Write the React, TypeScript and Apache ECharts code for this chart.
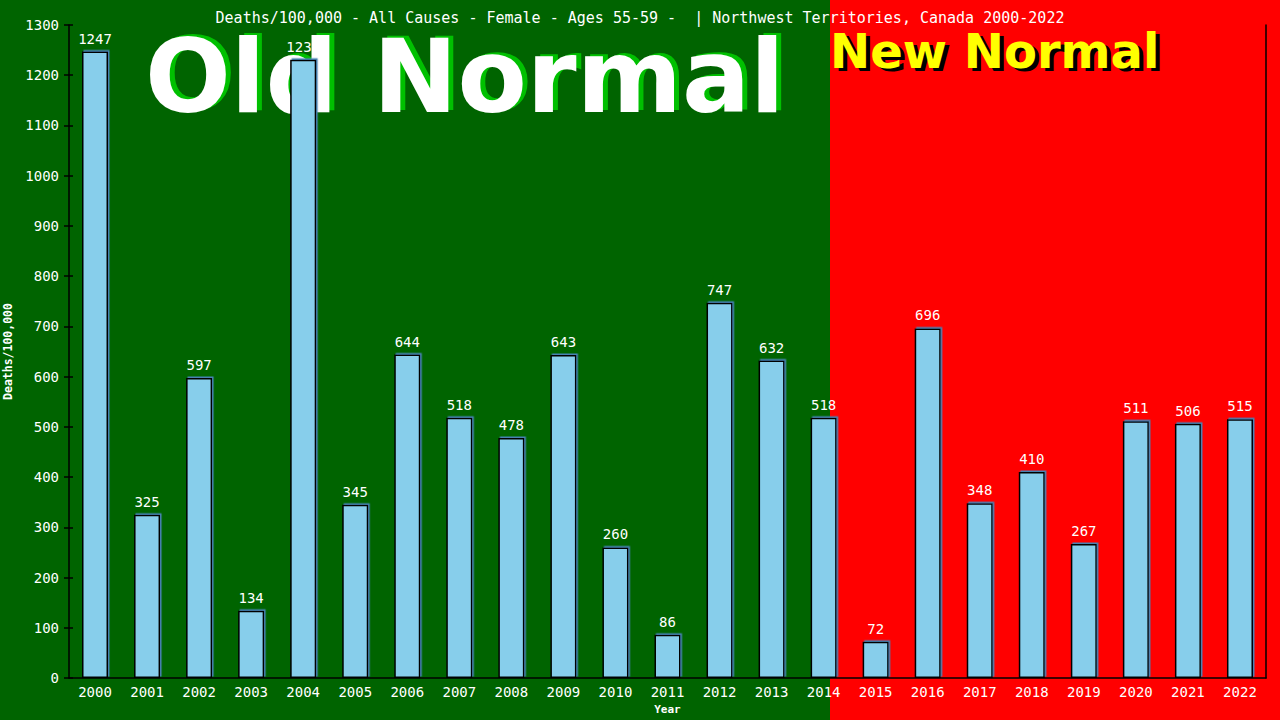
import { useEffect, useRef } from 'react';
import * as echarts from 'echarts';

const years = [
  '2000', '2001', '2002', '2003', '2004', '2005', '2006', '2007', '2008', '2009', '2010', '2011',
  '2012', '2013', '2014', '2015', '2016', '2017', '2018', '2019', '2020', '2021', '2022',
];
const deaths = [
  1247, 325, 597, 134, 1231, 345, 644, 518, 478, 643, 260, 86,
  747, 632, 518, 72, 696, 348, 410, 267, 511, 506, 515,
];
const yMax = 1300;
const yStep = 100;

const titleText = 'Deaths/100,000 - All Causes - Female - Ages 55-59 -  | Northwest Territories, Canada 2000-2022';
const mono = '"DejaVu Sans Mono", monospace';
const bold = '"DejaVu Sans", sans-serif';

export default function App() {
  const chartRef = useRef<HTMLDivElement>(null);

  useEffect(() => {
    if (!chartRef.current) return;
    const chart = echarts.init(chartRef.current, undefined, { renderer: 'svg' });

    const yBase = {
      type: 'value' as const,
      min: 0,
      max: yMax,
      interval: yStep,
      splitLine: { show: false },
      z: 10,
    };

    chart.setOption({
      animation: false,
      backgroundColor: '#006400',
      title: {
        text: titleText,
        left: 'center',
        top: 5,
        textStyle: { color: '#ffffff', fontSize: 15, fontWeight: 'normal', fontFamily: mono },
      },
      grid: { left: 69, right: 14, top: 25, bottom: 42, containLabel: false, outerBoundsMode: 'none' },
      xAxis: {
        type: 'category',
        data: years,
        z: 10,
        name: 'Year',
        nameLocation: 'middle',
        nameGap: 26,
        nameTextStyle: { color: '#ffffff', fontSize: 11, fontWeight: 'bold', fontFamily: mono },
        axisLine: { lineStyle: { color: '#000000', width: 1.5 } },
        axisTick: { show: false },
        axisLabel: { color: '#ffffff', fontSize: 14, fontFamily: mono, margin: 7 },
      },
      yAxis: [
        {
          ...yBase,
          position: 'left',
          name: 'Deaths/100,000',
          nameLocation: 'middle',
          nameGap: 51,
          nameTextStyle: { color: '#ffffff', fontSize: 11.5, fontWeight: 'bold', fontFamily: mono },
          axisLine: { show: true, lineStyle: { color: '#000000', width: 1.5 } },
          axisTick: { show: true, length: 5, lineStyle: { color: '#000000', width: 1.5 } },
          axisLabel: {
            color: '#ffffff',
            fontSize: 14,
            fontFamily: mono,
            margin: 10,
            formatter: (v: number) => String(v),
          },
        },
        {
          ...yBase,
          position: 'left',
          axisLine: { show: false },
          axisTick: { show: true, inside: true, length: 4, lineStyle: { color: '#000000', width: 1.5 } },
          axisLabel: { show: false },
        },
        {
          ...yBase,
          position: 'right',
          axisLine: { show: true, lineStyle: { color: '#000000', width: 1.5 } },
          axisTick: { show: false },
          axisLabel: { show: false },
        },
      ],
      graphic: [
        {
          type: 'rect',
          z: 0,
          silent: true,
          shape: { x: 830, y: 0, width: 450, height: 720 },
          style: { fill: '#ff0000' },
        },
        {
          type: 'text',
          z: 2,
          x: 150,
          y: 75,
          silent: true,
          style: {
            text: 'Old Normal',
            fill: '#00c000',
            fontSize: 101,
            fontWeight: 'bold',
            fontFamily: bold,
            verticalAlign: 'middle',
          },
        },
        {
          type: 'text',
          z: 2.5,
          x: 145,
          y: 77,
          silent: true,
          style: {
            text: 'Old Normal',
            fill: '#ffffff',
            fontSize: 101,
            fontWeight: 'bold',
            fontFamily: bold,
            verticalAlign: 'middle',
          },
        },
        {
          type: 'text',
          z: 2,
          x: 834,
          y: 54,
          silent: true,
          style: {
            text: 'New Normal',
            fill: '#000000',
            fontSize: 48,
            fontWeight: 'bold',
            fontFamily: bold,
            verticalAlign: 'middle',
          },
        },
        {
          type: 'text',
          z: 2.5,
          x: 830,
          y: 51,
          silent: true,
          style: {
            text: 'New Normal',
            fill: '#ffff00',
            fontSize: 48,
            fontWeight: 'bold',
            fontFamily: bold,
            verticalAlign: 'middle',
          },
        },
      ],
      series: [
        {
          // value labels sit under the big overlay text
          type: 'bar',
          z: 1,
          data: deaths,
          barWidth: '50%',
          silent: true,
          itemStyle: { color: 'rgba(0,0,0,0)' },
          label: {
            show: true,
            position: 'top',
            distance: 6,
            color: '#ffffff',
            fontSize: 14,
            fontFamily: mono,
          },
        },
        {
          type: 'bar',
          z: 3,
          data: deaths,
          barWidth: '50%',
          barGap: '-100%',
          itemStyle: {
            color: '#87ceeb',
            borderColor: '#000000',
            borderWidth: 1.5,
            shadowColor: '#4682b4',
            shadowBlur: 0,
            shadowOffsetX: 1.5,
            shadowOffsetY: -1.5,
          },
        },
      ],
    });

    return () => chart.dispose();
  }, []);

  return (
    <div
      ref={chartRef}
      style={{ position: 'fixed', left: 0, top: 0, width: 1280, height: 720 }}
    />
  );
}
